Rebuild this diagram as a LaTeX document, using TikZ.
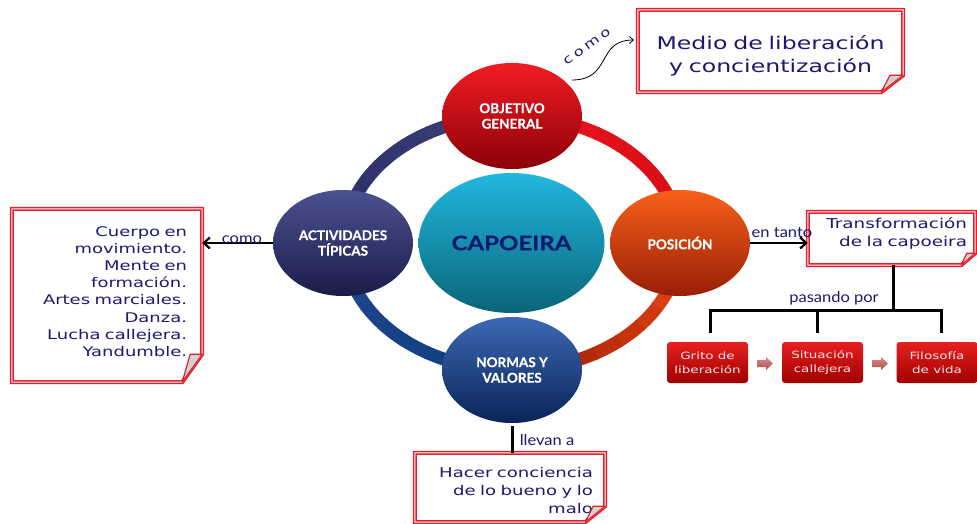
\documentclass[tikz,border=0pt]{standalone}
\usepackage{fontspec}
\setmainfont{DejaVu Sans}
\newfontfamily\boxfont[FakeStretch=1.35]{DejaVu Sans}
\newfontfamily\spacedfont[FakeStretch=1.3,LetterSpace=28]{DejaVu Sans}
\newfontfamily\labfont[FakeStretch=1.1]{Lato}
\newfontfamily\circfont[FakeBold=0.5]{Lato}
\newfontfamily\capfont[FakeStretch=1.2,FakeBold=0.5]{Lato}
\usetikzlibrary{shapes.geometric,arrows.meta}
\definecolor{boxred}{RGB}{226,30,44}
\definecolor{navytext}{RGB}{26,26,112}
\definecolor{capnavy}{RGB}{12,24,112}
\definecolor{redtext}{RGB}{250,228,228}
\definecolor{rbA}{RGB}{230,32,32}
\definecolor{rbB}{RGB}{160,0,0}
\definecolor{baA}{RGB}{220,140,140}
\definecolor{baB}{RGB}{170,78,78}
\definecolor{brA}{RGB}{236,74,18}
\definecolor{brB}{RGB}{160,30,10}
\definecolor{blA}{RGB}{14,60,128}
\definecolor{blB}{RGB}{34,72,140}
\definecolor{tlA}{RGB}{42,44,102}
\definecolor{tlB}{RGB}{60,64,120}
\definecolor{trA}{RGB}{232,20,30}
\definecolor{trB}{RGB}{212,14,18}
\newcommand\ringq[3]{%
  \foreach \i in {0,...,8}{%
    \pgfmathtruncatemacro\t{100-\i*100/8}%
    \pgfmathsetmacro\a{#1+\i*10}%
    \draw[line width=13pt, draw=#2!\t!#3] (512,243) ++(\a:168 and 127)
      arc[start angle=\a, delta angle=10.6, x radius=168, y radius=127];
  }}
\newcommand\notefold[3]{%
  \draw[noteline] (#1.north west) -- (#1.north east) -- ([yshift=#3]#1.south east)
    -- ([xshift=-#2]#1.south east) -- (#1.south west) -- cycle;
  \draw[flap] ([yshift=#3]#1.south east) -- ([xshift=-#2]#1.south east)
    -- ([xshift=-0.6*#2, yshift=#3]#1.south east) -- cycle;
}
\newcommand\blockarr[1]{%
  \shade[top color=baA, bottom color=baB] (#1) ++(-8,-3.5) -- ++(9,0) -- ++(0,-3)
    -- ++(7,6.5) -- ++(-7,6.5) -- ++(0,-3) -- ++(-9,0) -- cycle;
}
\begin{document}
\begin{tikzpicture}[x=1pt,y=-1pt,
  circ/.style={ellipse, minimum width=140pt, minimum height=106pt, inner sep=0pt,
    text=white, align=center, font=\circfont\bfseries\fontsize{13.5}{15.5}\selectfont},
  note/.style={rectangle, inner sep=0pt, text=navytext, align=right},
  noteline/.style={draw=boxred, line width=1.5pt, double=white, double distance=1pt, line join=miter},
  flap/.style={draw=boxred, line width=1.2pt, fill=gray!35, line join=round},
  redbox/.style={rectangle, rounded corners=3pt, minimum width=81pt, minimum height=41pt,
    inner sep=0pt, top color=rbA, bottom color=rbB, text=redtext, align=center,
    font=\boxfont\fontsize{10}{14}\selectfont},
  tree/.style={line width=3pt, black},
  barrow/.style={line width=2.2pt, -{Straight Barb[length=6pt,width=11pt]}},
  lab/.style={text=navytext, font=\labfont\fontsize{15}{17}\selectfont, inner sep=0pt}
]
\useasboundingbox[fill=white] (0,0) rectangle (977,524);

% ring
\ringq{0}{brA}{brB}
\ringq{90}{blA}{blB}
\ringq{180}{tlA}{tlB}
\ringq{270}{trA}{trB}

% ellipses
\node[circ, top color={rgb,255:red,242;green,28;blue,36}, bottom color={rgb,255:red,140;green,0;blue,8}] (obj) at (512,116) {OBJETIVO\\GENERAL};
\node[circ, top color={rgb,255:red,76;green,82;blue,144}, bottom color={rgb,255:red,26;green,28;blue,72}] (act) at (343,243) {ACTIVIDADES\\TÍPICAS};
\node[circ, top color={rgb,255:red,248;green,96;blue,26}, bottom color={rgb,255:red,152;green,30;blue,6}] (pos) at (680,243) {POSICIÓN};
\node[circ, top color={rgb,255:red,60;green,104;blue,180}, bottom color={rgb,255:red,10;green,36;blue,88}] (nv) at (512,370) {NORMAS Y\\VALORES};
\node[ellipse, minimum width=186pt, minimum height=140pt, inner sep=0pt,
  top color={rgb,255:red,34;green,184;blue,224}, bottom color={rgb,255:red,10;green,100;blue,120},
  text=capnavy, font=\capfont\bfseries\fontsize{20}{22}\selectfont] (cap) at (511.5,243) {CAPOEIRA};

% top box
\node[note, align=center, minimum width=265pt, minimum height=82pt, text width=245pt,
  font=\boxfont\fontsize{17.5}{23}\selectfont] (medio) at (770.5,51) {Medio de liberación\\y concientización\par\vspace*{-9pt}};
\notefold{medio}{22pt}{17pt}
\coordinate (cs) at (572,80);
\coordinate (ce) at (634,40);
\draw[line width=0.8pt, -{Straight Barb[length=4pt,width=7pt]}] (cs) .. controls (612,80) and (596,40) .. (ce);
\node[lab, rotate=36, font=\spacedfont\fontsize{12.5}{14}\selectfont] (como2) at (587,47) {como};

% left box
\node[note, minimum width=190pt, minimum height=173pt, text width=160pt,
  font=\boxfont\fontsize{13.3}{17.2}\selectfont] (lb) at (107,295.5)
  {Cuerpo en\\movimiento.\\Mente en\\formación.\\Artes marciales.\\Danza.\\Lucha callejera.\\Yandumble.\par\vspace*{8pt}};
\notefold{lb}{20pt}{28pt}
\draw[barrow] (act.west) -- (act.west -| lb.east);
\node[lab] (como1) at (242,240) {como};

% right box
\node[note, minimum width=167pt, minimum height=53pt, text width=151pt,
  font=\boxfont\fontsize{13.6}{18}\selectfont] (tb) at (891.5,238.5) {Transformación\\de la capoeira\par\vspace*{10pt}};
\notefold{tb}{14pt}{12pt}
\draw[barrow] (pos.east) -- (pos.east -| tb.west);
\node[lab] (entanto) at (782,233) {en tanto};

% red boxes
\node[redbox] (r1) at (707.5,362.5) {Grito de\\liberación};
\node[redbox] (r2) at (822.5,362.5) {Situación\\callejera};
\node[redbox] (r3) at (937,362.5) {Filosofía\\de vida};
\coordinate (a1) at (765,363.5);
\coordinate (a2) at (880,363.5);
\blockarr{a1}
\blockarr{a2}

% tree
\coordinate (bar) at (893,310);
\draw[tree] (tb.south -| bar) -- (bar);
\draw[tree] ([xshift=2.5pt,yshift=9pt]r1.north) |- (bar);
\draw[tree] ([xshift=4pt,yshift=9pt]r3.north) |- (bar);
\draw[tree] ([xshift=-5.5pt,yshift=9pt]r2.north) -- ([xshift=-5.5pt]r2.north |- bar);
\node[lab] (pasando) at (834,298) {pasando por};

% bottom box
\node[note, minimum width=190pt, minimum height=69pt, text width=166pt,
  font=\boxfont\fontsize{13.4}{18}\selectfont] (hb) at (510,487.5) {Hacer conciencia\\de lo bueno y lo\\malo\par\vspace*{-6pt}};
\notefold{hb}{20pt}{16pt}
\draw[tree, shorten <=3pt] (nv.south) -- (nv.south |- hb.north);
\node[lab] (llevan) at (547,440) {llevan a};
\end{tikzpicture}
\end{document}
